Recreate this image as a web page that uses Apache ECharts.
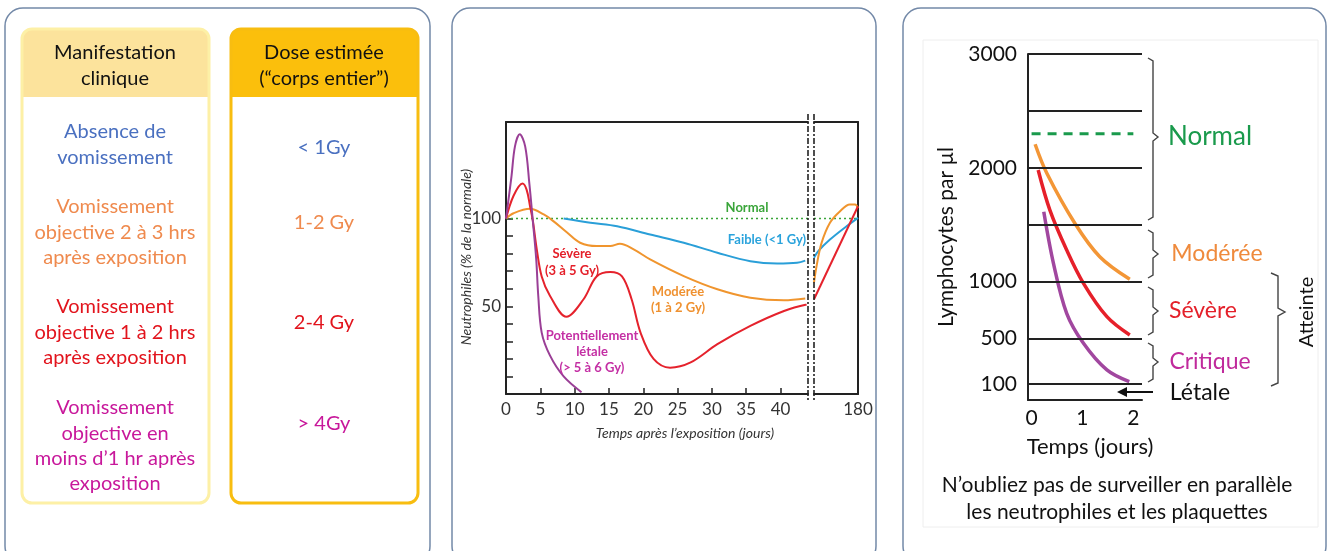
<!DOCTYPE html>
<html>
<head>
<meta charset="utf-8">
<script src="https://cdn.jsdelivr.net/npm/echarts@6/dist/echarts.min.js"></script>
<style>
    html, body {margin: 0; padding: 0; background: #fff;}
    #main {width: 1328px; height: 551px;}
</style>
</head>
<body>
<div id="main"></div>
<script>
// tableau de gauche
var manifestations = [
    ['Absence de', 'vomissement'],
    ['Vomissement', 'objective 2 à 3 hrs', 'après exposition'],
    ['Vomissement', 'objective 1 à 2 hrs', 'après exposition'],
    ['Vomissement', 'objective en', 'moins d\u20191 hr après', 'exposition']
];
var doses = ['< 1Gy', '1-2 Gy', '2-4 Gy', '> 4Gy'];
var couleursLignes = ['#4a70c0', '#ef8a4e', '#e2141d', '#c8189b'];

// panneau central : neutrophiles (% de la normale) / jours
var neutroJours = [0, 5, 10, 15, 20, 25, 30, 35, 40];
var neutroTicks = [10, 20, 30, 40, 50, 60, 70, 80, 90, 100];
var neutroLabels = [50, 100];
var neutroNormal = 100;
var letaleAvant = [[0,100],[0.8,124],[1.3,141],[2.0,148],[2.8,141],[3.4,120],[3.9,99],[4.4,77],[4.7,56],[5.2,35],[6.4,22],[8.4,10],[11,1]];
var severeAvant = [[0,100],[1.1,113],[2.4,120],[3.0,116.5],[3.5,107],[3.9,99],[4.5,82],[5.2,67],[6.4,56],[8.8,44],[11.3,54],[13.2,67],[15.2,69.5],[16.9,67],[18.3,54],[19.6,35],[21.5,20],[23.9,15],[26.9,18],[30.8,28.4],[35.6,38.8],[40.5,47.3],[43.8,51]];
var modereeAvant = [[0,100],[1.1,103],[3.5,105.5],[5.5,102.3],[6.9,98.5],[8.9,92],[10.8,86.2],[13.2,84.3],[15.2,84.3],[16.6,85.6],[18.6,82.4],[21,76.7],[25.9,67.2],[30.8,59.7],[35.6,54.9],[40.5,53.4],[43.6,54.4]];
var faibleAvant = [[8.4,100],[12.3,97.6],[16.2,95.6],[21,90.9],[25.9,86.2],[30.8,80.5],[35.6,75.7],[39.5,74.4],[42.4,74.8],[43.6,76]];
var severeApres = [[45,54],[180,107]];
var modereeApres = [[45,63.5],[53,73],[68,86],[94,97.6],[125,104.2],[155,108],[171,108],[180,106]];
var faibleApres = [[45,77.7],[58,81.4],[94,88],[145,95.6],[180,100.4]];

// panneau de droite : lymphocytes par µl / jours
var lymphoJours = [0, 1, 2];
var lymphoNiveaux = [100, 500, 1000, 1500, 2000, 2500, 3000];
var lymphoLabels = [100, 500, 1000, 2000, 3000];
var lymphoNormal = 2300;
var lymphoModeree = [[0.07,2207],[0.3,1952],[0.85,1513],[1.34,1219],[1.93,1021]];
var lymphoSevere = [[0.13,1981],[0.36,1629],[0.69,1278],[1.02,985],[1.48,692],[1.93,531]];
var lymphoCritique = [[0.24,1614],[0.43,1161],[0.69,722],[1.02,458],[1.48,224],[1.92,121]];

var myChart = echarts.init(document.getElementById('main'));

var txt = function (t, x, y, font, fill, rot) {
    return {
        type: 'text', x: x, y: y, rotation: rot || 0, z: 100,
        style: {text: t, font: font, fill: fill, align: 'center', verticalAlign: 'middle',
            textAlign: 'center', textVerticalAlign: 'middle'}
    };
};
var accolade = function (x, y1, y2, ym, w) {
    return {
        type: 'polyline', z: 100,
        shape: {points: [[x, y1], [x + w, y1 + 3], [x + w, ym - 4], [x + 2 * w, ym], [x + w, ym + 4], [x + w, y2 - 3], [x, y2]]},
        style: {fill: 'none', stroke: '#444', lineWidth: 1.4}
    };
};

var gr = [];
// cadres
[[5, 425], [452, 424], [903, 423]].forEach(function (p) {
    gr.push({type: 'rect', shape: {x: p[0], y: 8, width: p[1], height: 556, r: 18},
        style: {fill: 'none', stroke: '#7389a8', lineWidth: 1.5}});
});
gr.push({type: 'rect', shape: {x: 923, y: 40, width: 395, height: 487},
    style: {fill: 'none', stroke: '#eeeeee', lineWidth: 1}});

// tableau
gr.push({type: 'rect', shape: {x: 22, y: 29, width: 187, height: 68, r: [10, 10, 0, 0]}, style: {fill: '#fce39c'}});
gr.push({type: 'rect', shape: {x: 22, y: 29, width: 187, height: 474, r: 10}, style: {fill: 'none', stroke: '#fdf0a6', lineWidth: 3}});
gr.push({type: 'rect', shape: {x: 231, y: 29, width: 187, height: 68, r: [10, 10, 0, 0]}, style: {fill: '#fbbf0c'}});
gr.push({type: 'rect', shape: {x: 231, y: 29, width: 187, height: 474, r: 10}, style: {fill: 'none', stroke: '#f8bd10', lineWidth: 3}});
gr.push(txt('Manifestation', 115, 53, '20px Lato', '#111'));
gr.push(txt('clinique', 115, 79, '20px Lato', '#111'));
gr.push(txt('Dose estimée', 324, 53, '20px Lato', '#111'));
gr.push(txt('(\u201Ccorps entier\u201D)', 324, 79, '20px Lato', '#111'));
var debutLignes = [132, 207, 307, 408];
manifestations.forEach(function (lignes, i) {
    lignes.forEach(function (l, j) {
        gr.push(txt(l, 115, debutLignes[i] + j * 25.3, '20px Lato', couleursLignes[i]));
    });
    gr.push(txt(doses[i], 324, debutLignes[i] + 16, '20px Lato', couleursLignes[i]));
});

// panneau central : coupure de l'axe et textes
[808, 814].forEach(function (x) {
    gr.push({type: 'line', z: 50, shape: {x1: x, y1: 114, x2: x, y2: 402},
        style: {stroke: '#222', lineWidth: 1.6, lineDash: [6, 2, 2, 2]}});
});
gr.push(txt('Neutrophiles (% de la normale)', 466, 257, 'italic 14px Lato', '#333', Math.PI / 2));
gr.push(txt('Temps après l\u2019exposition (jours)', 685, 433, 'italic 14px Lato', '#333'));
gr.push(txt('Normal', 747, 208, 'bold 13px Lato', '#3aa53a'));
gr.push(txt('Faible (<1 Gy)', 767, 240, 'bold 13px Lato', '#2aa3dc'));
gr.push(txt('Sévère', 572, 254, 'bold 13px Lato', '#e4202a'));
gr.push(txt('(3 à 5 Gy)', 572, 271, 'bold 13px Lato', '#e4202a'));
gr.push(txt('Modérée', 678, 292, 'bold 13px Lato', '#ef9130'));
gr.push(txt('(1 à 2 Gy)', 678, 308, 'bold 13px Lato', '#ef9130'));
gr.push(txt('Potentiellement', 592, 336, 'bold 13px Lato', '#c42fa4'));
gr.push(txt('létale', 592, 352, 'bold 13px Lato', '#c42fa4'));
gr.push(txt('(> 5 à 6 Gy)', 592, 368, 'bold 13px Lato', '#c42fa4'));

// panneau de droite : textes et accolades
gr.push(txt('Lymphocytes par µl', 946, 237, '21px Lato', '#111', Math.PI / 2));
gr.push(txt('Temps (jours)', 1090, 447, '22px Lato', '#111'));
gr.push(txt('N\u2019oubliez pas de surveiller en parallèle', 1117, 485, '21px Lato', '#111'));
gr.push(txt('les neutrophiles et les plaquettes', 1117, 512, '21px Lato', '#111'));
gr.push(txt('Normal', 1210, 137, '26px Lato', '#1a9a4c'));
gr.push(txt('Modérée', 1217, 254, '23px Lato', '#ef8a3c'));
gr.push(txt('Sévère', 1203, 311, '23px Lato', '#e4202a'));
gr.push(txt('Critique', 1210, 362, '23px Lato', '#c02a9c'));
gr.push(txt('Létale', 1200, 393, '23px Lato', '#111'));
gr.push(txt('Atteinte', 1307, 312, '20px Lato', '#111', Math.PI / 2));
gr.push(accolade(1148, 58, 220, 137, 5));
gr.push(accolade(1148, 230, 278, 254, 5));
gr.push(accolade(1148, 287, 335, 311, 5));
gr.push(accolade(1148, 343, 382, 362, 5));
gr.push(accolade(1271, 273, 386, 312, 7));
gr.push({type: 'line', z: 100, shape: {x1: 1153, y1: 392, x2: 1124, y2: 392}, style: {stroke: '#111', lineWidth: 2}});
gr.push({type: 'polygon', z: 100, shape: {points: [[1117, 392], [1127, 387], [1127, 397]]}, style: {fill: '#111'}});

var axeNu = function (grid, pos) {
    return {type: 'value', gridIndex: grid, position: pos, min: 0, max: 1,
        axisLine: {show: true, onZero: false, lineStyle: {color: '#222', width: 2}},
        axisTick: {show: false}, axisLabel: {show: false}, splitLine: {show: false}};
};
var ligne = function (nom, data, couleur, xi, yi, lw) {
    return {name: nom, type: 'line', xAxisIndex: xi, yAxisIndex: yi, data: data,
        smooth: 0.35, symbol: 'none', lineStyle: {color: couleur, width: lw || 2}};
};
var brut = function (v) { return String(v); };
var xTop0 = axeNu(0, 'top'); xTop0.min = 0; xTop0.max = 44;
var xTop1 = axeNu(1, 'top'); xTop1.min = 45; xTop1.max = 180;
var yRight1 = axeNu(1, 'right'); yRight1.min = 0; yRight1.max = 155;

option = {
    animation: false,
    backgroundColor: '#fff',
    graphic: {elements: gr},
    grid: [
        {left: 506, top: 122, width: 302, height: 272},
        {left: 814, top: 122, width: 44, height: 272},
        {left: 1028, top: 54, width: 114, height: 346}
    ],
    xAxis: [
        {type: 'value', gridIndex: 0, min: 0, max: 44,
            axisLine: {onZero: false, lineStyle: {color: '#222', width: 2}},
            axisTick: {show: true, inside: true, length: 6, customValues: neutroJours.slice(1), lineStyle: {color: '#222', width: 1.5}},
            axisLabel: {customValues: neutroJours, fontFamily: 'Lato', fontSize: 17, color: '#333', margin: 7},
            splitLine: {show: false}},
        xTop0,
        {type: 'value', gridIndex: 1, min: 45, max: 180,
            axisLine: {onZero: false, lineStyle: {color: '#222', width: 2}},
            axisTick: {show: false},
            axisLabel: {customValues: [180], fontFamily: 'Lato', fontSize: 17, color: '#333', margin: 7},
            splitLine: {show: false}},
        xTop1,
        {type: 'value', gridIndex: 2, min: -0.07, max: 2.17,
            axisLine: {onZero: false, lineStyle: {color: '#222', width: 2}},
            axisTick: {show: false},
            axisLabel: {customValues: lymphoJours, fontFamily: 'Lato', fontSize: 21, color: '#111', margin: 8, formatter: brut},
            splitLine: {show: false}}
    ],
    yAxis: [
        {type: 'value', gridIndex: 0, min: 0, max: 155,
            axisLine: {onZero: false, lineStyle: {color: '#222', width: 2}},
            axisTick: {show: true, inside: true, length: 7, customValues: neutroTicks, lineStyle: {color: '#222', width: 1.5}},
            axisLabel: {customValues: neutroLabels, fontFamily: 'Lato', fontSize: 17, color: '#333', margin: 5},
            splitLine: {show: false}},
        yRight1,
        {type: 'value', gridIndex: 2, min: -40, max: 3000,
            axisLine: {onZero: false, lineStyle: {color: '#222', width: 2}},
            axisTick: {show: false},
            axisLabel: {customValues: lymphoLabels, fontFamily: 'Lato', fontSize: 21, color: '#111', margin: 11, formatter: brut},
            splitLine: {show: false}}
    ],
    series: [
        {name: 'Normal', type: 'line', xAxisIndex: 0, yAxisIndex: 0, symbol: 'none', z: 1,
            data: [[0, neutroNormal], [44, neutroNormal]],
            lineStyle: {color: '#3aa53a', width: 1.6, type: [2, 3]}},
        {name: 'Normal', type: 'line', xAxisIndex: 2, yAxisIndex: 1, symbol: 'none', z: 1,
            data: [[45, neutroNormal], [180, neutroNormal]],
            lineStyle: {color: '#3aa53a', width: 1.6, type: [2, 3]}},
        ligne('Faible', faibleAvant, '#2a9fd8', 0, 0),
        ligne('Modérée', modereeAvant, '#f0952e', 0, 0),
        ligne('Sévère', severeAvant, '#e5222c', 0, 0),
        ligne('Létale', letaleAvant, '#9a3f96', 0, 0),
        ligne('Faible', faibleApres, '#2a9fd8', 2, 1),
        ligne('Modérée', modereeApres, '#f0952e', 2, 1),
        ligne('Sévère', severeApres, '#e5222c', 2, 1),
        {name: 'Normal lympho', type: 'line', xAxisIndex: 4, yAxisIndex: 2, symbol: 'none',
            data: [[0, lymphoNormal], [2, lymphoNormal]],
            lineStyle: {color: '#1a9a4c', width: 3, type: [9, 7]},
            markLine: {
                silent: true, symbol: ['none', 'none'], label: {show: false},
                lineStyle: {color: '#222', width: 2, type: 'solid'},
                data: lymphoNiveaux.map(function (v) { return {yAxis: v}; })
            }},
        ligne('Modérée', lymphoModeree, '#f39636', 4, 2, 3.5),
        ligne('Sévère', lymphoSevere, '#e6202a', 4, 2, 3.5),
        ligne('Critique', lymphoCritique, '#a1479f', 4, 2, 3.5)
    ]
};
myChart.setOption(option);
</script>
</body>
</html>
